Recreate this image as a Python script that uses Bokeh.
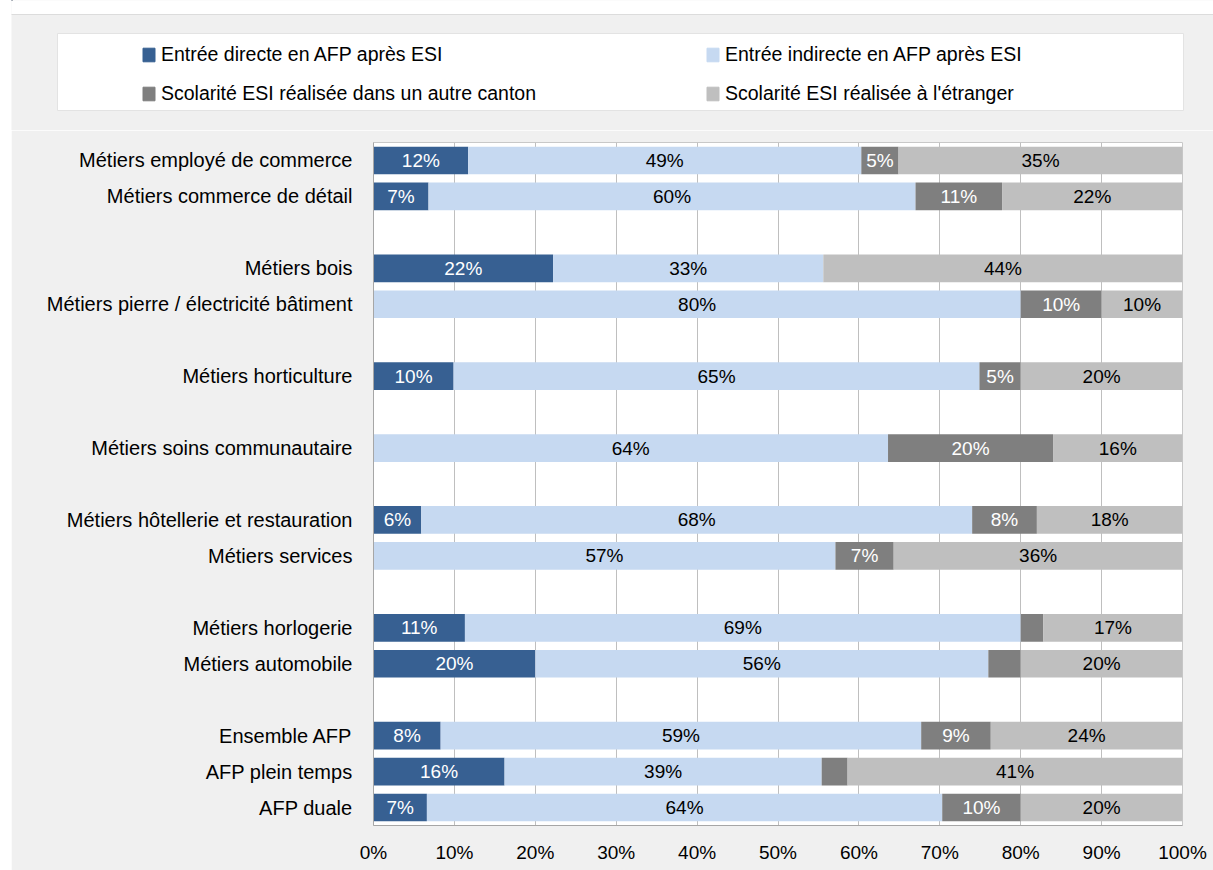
from bokeh.plotting import figure
from bokeh.models import (ColumnDataSource, FactorRange, Range1d, LabelSet, Legend,
                          LegendItem, PrintfTickFormatter, FixedTicker, Spacer)
from bokeh.layouts import column, row
from bokeh.core.properties import value, field
from bokeh.embed import file_html
from bokeh.resources import INLINE

# ---------------- data ----------------
categories = [
    "Métiers employé de commerce", "Métiers commerce de détail",
    "Métiers bois", "Métiers pierre / électricité bâtiment",
    "Métiers horticulture",
    "Métiers soins communautaire",
    "Métiers hôtellerie et restauration", "Métiers services",
    "Métiers horlogerie", "Métiers automobile",
    "Ensemble AFP", "AFP plein temps", "AFP duale",
]
group_sizes = [2, 2, 1, 1, 2, 2, 3]

series_names = [
    "Entrée directe en AFP après ESI",
    "Entrée indirecte en AFP après ESI",
    "Scolarité ESI réalisée dans un autre canton",
    "Scolarité ESI réalisée à l'étranger",
]
directe = [11.7, 6.8, 22.2, 0.0, 9.9, 0.0, 5.9, 0.0, 11.3, 20.0, 8.3, 16.2, 6.6]
indirecte = [48.6, 60.2, 33.4, 80.0, 65.0, 63.6, 68.1, 57.1, 68.7, 56.0, 59.4, 39.2, 63.7]
autre_canton = [4.6, 10.7, 0.0, 10.0, 5.1, 20.4, 8.0, 7.2, 2.8, 4.0, 8.6, 3.2, 9.7]
etranger = [35.1, 22.3, 44.4, 10.0, 20.0, 16.0, 18.0, 35.7, 17.2, 20.0, 23.7, 41.4, 20.0]
x_ticks = [0, 10, 20, 30, 40, 50, 60, 70, 80, 90, 100]

# ---------------- style ----------------
colors = ["#376092", "#c6d9f1", "#7f7f7f", "#bfbfbf"]
label_colors = ["white", "black", "white", "black"]
FONT = "Liberation Sans"
PANEL = "#f0f0f0"

# factors with blank separators between groups
factors = []
i = 0
for g, n in enumerate(group_sizes):
    if g > 0:
        factors.append(" " * g)
    factors.extend(categories[i:i + n])
    i += n

keys = ["directe", "indirecte", "autre_canton", "etranger"]
src = ColumnDataSource(dict(cat=categories, directe=directe, indirecte=indirecte,
                            autre_canton=autre_canton, etranger=etranger))

# label table built from the series
lx, ly, lt, lc = [], [], [], []
series = [directe, indirecte, autre_canton, etranger]
for j, cat in enumerate(categories):
    left = 0.0
    for s, vals in enumerate(series):
        v = vals[j]
        if v >= 4.5:
            lx.append(left + v / 2)
            ly.append(cat)
            lt.append(f"{int(v + 0.5)}%")
            lc.append(label_colors[s])
        left += v
lsrc = ColumnDataSource(dict(x=lx, y=ly, text=lt, tcolor=lc))

# ---------------- main chart ----------------
p = figure(y_range=FactorRange(factors=factors[::-1], range_padding=0),
           x_range=Range1d(0, 100),
           frame_width=809, frame_height=683,
           min_border_left=362, min_border_right=31,
           min_border_top=12, min_border_bottom=45,
           toolbar_location=None, output_backend="svg",
           background_fill_color="white", border_fill_color=PANEL,
           outline_line_color="#c8c8c8", frame_align=False)

p.hbar_stack(keys, y="cat", height=0.77, color=colors, line_color=None, source=src)

labels = LabelSet(x="x", y="y", text="text", source=lsrc,
                  text_align="center", text_baseline="middle",
                  text_color=field("tcolor"), text_font=value(FONT),
                  text_font_size=value("19px"))
p.add_layout(labels)

p.xaxis.ticker = FixedTicker(ticks=x_ticks)
p.xaxis.formatter = PrintfTickFormatter(format="%d%%")
p.xgrid.ticker = FixedTicker(ticks=x_ticks)
p.xgrid.grid_line_color = "#bfbfbf"
p.ygrid.grid_line_color = None

for ax in (p.xaxis, p.yaxis):
    ax.axis_line_color = "#a6a6a6"
    ax.major_tick_line_color = None
    ax.minor_tick_line_color = None
    ax.major_tick_out = 0
    ax.major_tick_in = 0
    ax.major_label_text_font = FONT
    ax.major_label_text_color = "black"

p.xaxis.major_label_text_font_size = "19px"
p.xaxis.major_label_standoff = 16
p.yaxis.major_label_text_font_size = "20px"
p.yaxis.major_label_standoff = 21

# ---------------- legend panel (separate strip above the chart) ----------------
lg = figure(width=1202, height=130, x_range=Range1d(0, 1202), y_range=Range1d(130, 0),
            toolbar_location=None, output_backend="svg", min_border=0,
            x_axis_location=None, y_axis_location=None, frame_align=False,
            background_fill_color=PANEL, border_fill_color=PANEL, outline_line_color=None)
lg.grid.visible = False
# white page strip above the grey panel, and white legend box (decoration)
lg.quad(left=-20, right=1300, top=-20, bottom=14, fill_color="white", line_color="#dcdcdc")
lg.quad(left=46, right=1172, top=33, bottom=110, fill_color="white", line_color="#e3e3e3")
# off-screen swatches so the legend has glyphs to draw
swatches = [lg.hbar(y=[-1000], left=[0], right=[1], height=1, color=c) for c in colors]
legend = Legend(items=[LegendItem(label=n, renderers=[r]) for n, r in zip(series_names, swatches)],
                orientation="horizontal", ncols=2,
                location=(130, 25), padding=0, margin=0, spacing=16,
                glyph_width=15, glyph_height=17, label_height=22,
                label_width=528, label_standoff=5,
                label_text_font=FONT, label_text_font_size="19.5px",
                label_text_color="black",
                background_fill_alpha=0, border_line_color=None)
lg.add_layout(legend)

layout = row(Spacer(width=11, height=870),
             column(lg, p, spacing=0), spacing=0)
open("out.html", "w").write(file_html(layout, INLINE))
